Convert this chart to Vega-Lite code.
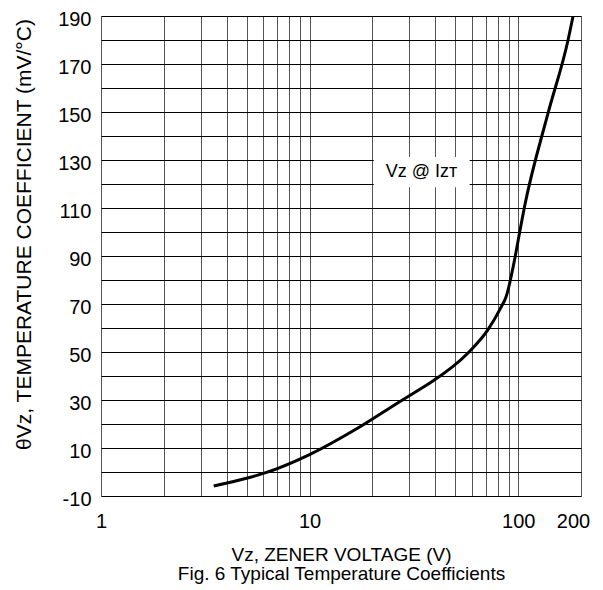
{
  "$schema": "https://vega.github.io/schema/vega-lite/v6.json",
  "width": 480,
  "height": 480,
  "autosize": "none",
  "padding": {"left": 101, "top": 16, "right": 22, "bottom": 94},
  "background": "white",
  "config": {
    "view": {"stroke": "#808080", "strokeWidth": 1},
    "font": "Liberation Sans, DejaVu Sans"
  },
  "data": {
    "values": [
      {"vz": 3.47, "tc": -5.8},
      {"vz": 5.2, "tc": -2.2},
      {"vz": 7.0, "tc": 1.4},
      {"vz": 9.93, "tc": 7.1},
      {"vz": 16.96, "tc": 18.2},
      {"vz": 26.9, "tc": 29.2},
      {"vz": 33.5, "tc": 34.3},
      {"vz": 38.2, "tc": 37.4},
      {"vz": 57.3, "tc": 49.5},
      {"vz": 71.5, "tc": 59.2},
      {"vz": 82.2, "tc": 68.2},
      {"vz": 87.5, "tc": 73},
      {"vz": 96, "tc": 88.3},
      {"vz": 101.4, "tc": 99.5},
      {"vz": 107.2, "tc": 110.5},
      {"vz": 139, "tc": 149.5},
      {"vz": 173.4, "tc": 180},
      {"vz": 183, "tc": 189.7}
    ]
  },
  "encoding": {
    "x": {
      "field": "vz",
      "type": "quantitative",
      "scale": {"type": "log", "domain": [1, 200], "nice": false},
      "axis": {
        "values": [1, 2, 3, 4, 5, 6, 7, 8, 9, 10, 20, 30, 40, 50, 60, 70, 80, 90, 100, 200],
        "labelExpr": "indexof([1, 10, 100, 200], datum.value) >= 0 ? '' + datum.value : ''",
        "grid": true,
        "gridColor": "#555555",
        "gridWidth": 1,
        "ticks": false,
        "domain": false,
        "labelFontSize": 20,
        "labelColor": "black",
        "labelPadding": 15,
        "labelFlush": false,
        "labelOverlap": false,
        "labelOffset": {"condition": {"test": "datum.value == 200", "value": -8}, "value": 0},
        "title": ["Vᴢ, ZENER VOLTAGE (V)", "Fig. 6 Typical Temperature Coefficients"],
        "titleFontSize": 19,
        "titleFontWeight": "normal",
        "titleColor": "black",
        "titlePadding": 14,
        "titleLineHeight": 19
      }
    },
    "y": {
      "field": "tc",
      "type": "quantitative",
      "scale": {"domain": [-10, 190], "nice": false, "zero": false},
      "axis": {
        "values": [-10, 0, 10, 20, 30, 40, 50, 60, 70, 80, 90, 100, 110, 120, 130, 140, 150, 160, 170, 180, 190],
        "labelExpr": "(datum.value + 10) % 20 == 0 ? '' + datum.value : ''",
        "grid": true,
        "gridColor": "black",
        "gridWidth": 1,
        "ticks": false,
        "domain": false,
        "labelFontSize": 20,
        "labelColor": "black",
        "labelPadding": 10,
        "labelOffset": 3,
        "labelFlush": false,
        "labelOverlap": false,
        "title": "θVᴢ, TEMPERATURE COEFFICIENT (mV/°C)",
        "titleFontSize": 21,
        "titleFontWeight": "normal",
        "titleColor": "black",
        "titlePadding": 23,
        "titleY": 218
      }
    }
  },
  "layer": [
    {
      "data": {"values": [{"vz": 20.3, "vz2": 58.5, "tc": 118.6, "tc2": 131.2}]},
      "mark": {"type": "rect", "fill": "white", "stroke": null},
      "encoding": {
        "x2": {"field": "vz2"},
        "y2": {"field": "tc2"}
      }
    },
    {
      "data": {"values": [{"vz": 34.4, "tc": 125, "t": "Vᴢ @ Iᴢᴛ"}]},
      "mark": {"type": "text", "fontSize": 18, "color": "black", "align": "center", "baseline": "middle"},
      "encoding": {"text": {"field": "t"}}
    },
    {
      "mark": {"type": "line", "color": "black", "strokeWidth": 3, "interpolate": "monotone"},
      "encoding": {}
    }
  ]
}
